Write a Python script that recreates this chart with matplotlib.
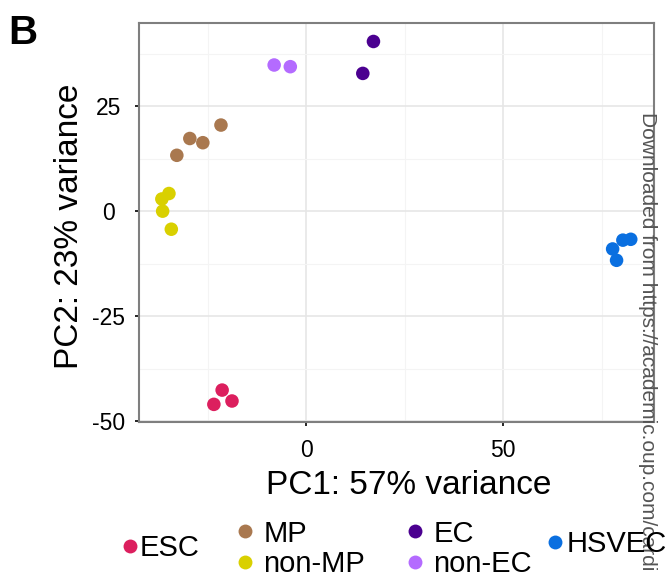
import matplotlib
matplotlib.use("Agg")
import matplotlib.pyplot as plt
from matplotlib.lines import Line2D

plt.rcParams["font.family"] = ["Liberation Sans", "DejaVu Sans"]
plt.rcParams["axes.unicode_minus"] = False

# PCA coordinates
groups = ["ESC", "MP", "non-MP", "EC", "non-EC", "HSVEC"]
colors = ["#DC1F5E", "#A9784F", "#D9D000", "#4B0090", "#B46BFF", "#0A6FE0"]

esc_x = [-23.4, -21.3, -18.8]
esc_y = [-46.0, -42.6, -45.2]
mp_x = [-32.8, -29.5, -26.2, -21.6]
mp_y = [13.3, 17.3, 16.3, 20.5]
nonmp_x = [-36.6, -34.8, -36.4, -34.2]
nonmp_y = [2.9, 4.2, 0.0, -4.3]
ec_x = [17.1, 14.4]
ec_y = [40.4, 32.8]
nonec_x = [-8.1, -4.0]
nonec_y = [34.8, 34.4]
hsvec_x = [77.8, 78.8, 80.4, 82.4]
hsvec_y = [-9.0, -11.7, -6.9, -6.7]

xs = [esc_x, mp_x, nonmp_x, ec_x, nonec_x, hsvec_x]
ys = [esc_y, mp_y, nonmp_y, ec_y, nonec_y, hsvec_y]

xticks = [0, 50]
yticks = [-50, -25, 0, 25]

fig = plt.figure(figsize=(6.71, 5.81), dpi=100)
ax = fig.add_axes([139 / 671, 1 - 422 / 581, (654 - 139) / 671, (422 - 23) / 581])

for g, c, x, y in zip(groups, colors, xs, ys):
    ax.scatter(x, y, s=95, color=c, edgecolors="none", zorder=3)

ax.set_xlim(-42.4, 88.3)
ax.set_ylim(-50.2, 44.8)
ax.set_xticks(xticks)
ax.set_yticks(yticks)
ax.set_xticks([-25, 25, 75], minor=True)
ax.set_yticks([-37.5, -12.5, 12.5, 37.5], minor=True)
ax.grid(True, which="major", color="#e6e6e6", linewidth=1.2)
ax.grid(True, which="minor", color="#f4f4f4", linewidth=0.8)
ax.set_axisbelow(True)
ax.tick_params(which="major", length=3, width=1.2, labelsize=16.5, color="black")
ax.tick_params(axis="x", pad=9)
ax.tick_params(axis="y", pad=19)
for lbl in ax.get_yticklabels():
    lbl.set_horizontalalignment("center")
ax.tick_params(which="minor", length=0)
for s in ax.spines.values():
    s.set_color("#7f7f7f")
    s.set_linewidth(1.5)

ax.set_xlabel("PC1: 57% variance", fontsize=24, labelpad=6)
ax.set_ylabel("PC2: 23% variance", fontsize=24, labelpad=5)
ax.xaxis.label.set_x(0.523)
ax.yaxis.label.set_y(0.491)

fig.text(8 / 671, 1 - 44 / 581, "B", fontsize=29, fontweight="bold")

# legend split in columns like the original
def handle(c):
    return Line2D([], [], marker="o", linestyle="none", markersize=10,
                  markerfacecolor=c, markeredgecolor="none")

cols = [([0], 115 / 671, 1 - 548 / 581, -0.15),
        ([1, 2], 230 / 671, 1 - 549 / 581, 0.15),
        ([3, 4], 400 / 671, 1 - 549 / 581, 0.15),
        ([5], 540 / 671, 1 - 544 / 581, -0.1)]
for idx, bx, by, pad in cols:
    leg = fig.legend([handle(colors[i]) for i in idx], [groups[i] for i in idx],
                     loc="center left", bbox_to_anchor=(bx, by), frameon=False,
                     fontsize=21, handletextpad=pad, handlelength=1.0,
                     labelspacing=0.1, borderaxespad=0, borderpad=0)

fig.text(648 / 671, 1 - 112 / 581, "Downloaded from https://academic.oup.com/cardi",
         rotation=-90, fontsize=15, color="#555555", ha="center", va="top")

fig.savefig("out.png", dpi=100)
